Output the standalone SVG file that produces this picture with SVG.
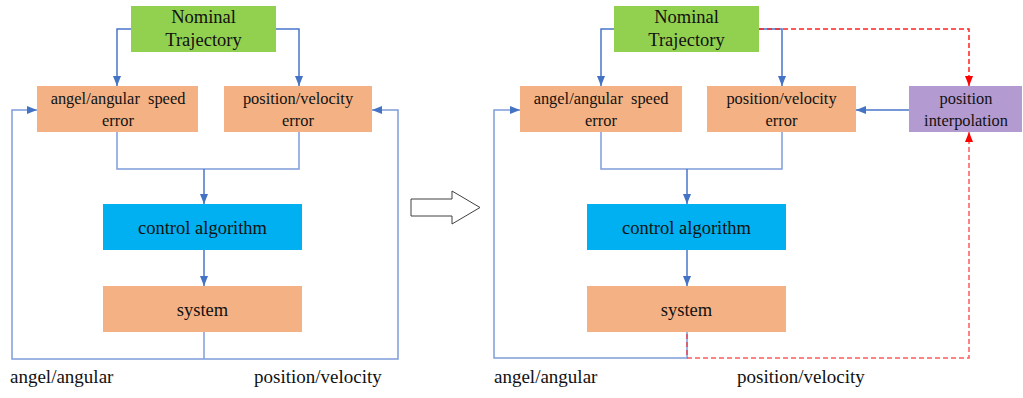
<svg xmlns="http://www.w3.org/2000/svg" width="1023" height="398" viewBox="0 0 1023 398" font-family="'Liberation Serif', 'Times New Roman', serif">
<style>
text{font-family:"Liberation Serif","Times New Roman",serif;fill:#111;text-anchor:middle;white-space:pre}
.t18{font-size:18.5px}.t16{font-size:16.4px}.t19{font-size:19px}
.green{fill:#92d050}.orange{fill:#f4b183}.cyan{fill:#00b0f0}.purple{fill:#b39ad1}
.blue{fill:none;stroke:#4a76c8;stroke-width:1.5}
.lblue{fill:none;stroke:#7f9ddb;stroke-width:1.5}
.red{fill:none;stroke:#ff2020;stroke-width:1.5;stroke-dasharray:5,3}
</style>
<defs>
<marker id="ab" markerUnits="userSpaceOnUse" markerWidth="10" markerHeight="10" viewBox="0 0 10 10" refX="10" refY="5" orient="auto"><path d="M0,1 L10,5 L0,9 Z" fill="#4472c4"/></marker>
<marker id="ar" markerUnits="userSpaceOnUse" markerWidth="10" markerHeight="10" viewBox="0 0 10 10" refX="10" refY="5" orient="auto"><path d="M0,1 L10,5 L0,9 Z" fill="#ff0000"/></marker>
</defs>
<g id="connectors">
<path class="blue" d="M131,29 H117 V86" marker-end="url(#ab)"/>
<path class="blue" d="M276,29 H299 V86" marker-end="url(#ab)"/>
<path class="lblue" d="M117,132 V169 H299 V132"/>
<path class="blue" d="M204,169 V204" marker-end="url(#ab)"/>
<path class="blue" d="M204,250 V286" marker-end="url(#ab)"/>
<path class="lblue" d="M204,332 V359"/>
<path class="lblue" d="M204,359 H12 V110 H37" marker-end="url(#ab)"/>
<path class="lblue" d="M204,359 H398 V110 H372" marker-end="url(#ab)"/>
<polygon points="411,199 452,199 452,191 480,207.5 452,224 452,216 411,216" fill="#fff" stroke="#404040" stroke-width="1"/>
<path class="blue" d="M614,29 H601 V86" marker-end="url(#ab)"/>
<path class="blue" d="M759,29 H782 V86" marker-end="url(#ab)"/>
<path class="lblue" d="M601,132 V169 H782 V132"/>
<path class="blue" d="M687,169 V204" marker-end="url(#ab)"/>
<path class="blue" d="M687,250 V286" marker-end="url(#ab)"/>
<path class="lblue" d="M687,332 V358 H494 V110 H520" marker-end="url(#ab)"/>
<path class="blue" d="M909,110 H856" marker-end="url(#ab)"/>
<path class="red" d="M759,29 H969 V86" marker-end="url(#ar)"/>
<path class="red" d="M687,334 V358 H969 V132" marker-end="url(#ar)" stroke-opacity="0.75"/>
</g>
<g id="nominal-left"><rect class="green" x="131" y="6" width="145" height="46"/><text class="t18" x="203.5" y="23">Nominal</text><text class="t18" x="203.5" y="46">Trajectory</text></g>
<g id="angle-error-left"><rect class="orange" x="37" y="86" width="161" height="46"/><text class="t16" x="118" y="104">angel/angular  speed</text><text class="t16" x="118" y="126">error</text></g>
<g id="pos-error-left"><rect class="orange" x="224" y="86" width="148" height="46"/><text class="t16" x="298" y="104">position/velocity</text><text class="t16" x="298" y="126">error</text></g>
<g id="control-left"><rect class="cyan" x="103" y="204" width="199" height="46"/><text class="t18" x="202.5" y="234">control algorithm</text></g>
<g id="system-left"><rect class="orange" x="103" y="286" width="199" height="46"/><text class="t18" x="202.5" y="316">system</text></g>
<g id="labels-left"><text class="t19" x="10" y="383" style="text-anchor:start">angel/angular</text><text class="t19" x="254" y="383" style="text-anchor:start">position/velocity</text></g>
<g id="nominal-right"><rect class="green" x="614" y="6" width="145" height="46"/><text class="t18" x="686.5" y="23">Nominal</text><text class="t18" x="686.5" y="46">Trajectory</text></g>
<g id="angle-error-right"><rect class="orange" x="520" y="86" width="162" height="46"/><text class="t16" x="601" y="104">angel/angular  speed</text><text class="t16" x="601" y="126">error</text></g>
<g id="pos-error-right"><rect class="orange" x="707" y="86" width="149" height="46"/><text class="t16" x="781.5" y="104">position/velocity</text><text class="t16" x="781.5" y="126">error</text></g>
<g id="interp"><rect class="purple" x="909" y="86" width="113" height="46"/><text class="t16" x="966" y="104">position</text><text class="t16" x="966" y="126">interpolation</text></g>
<g id="control-right"><rect class="cyan" x="587" y="204" width="199" height="46"/><text class="t18" x="686.5" y="234">control algorithm</text></g>
<g id="system-right"><rect class="orange" x="587" y="286" width="199" height="46"/><text class="t18" x="686.5" y="316">system</text></g>
<g id="labels-right"><text class="t19" x="494" y="383" style="text-anchor:start">angel/angular</text><text class="t19" x="737" y="383" style="text-anchor:start">position/velocity</text></g>
</svg>
